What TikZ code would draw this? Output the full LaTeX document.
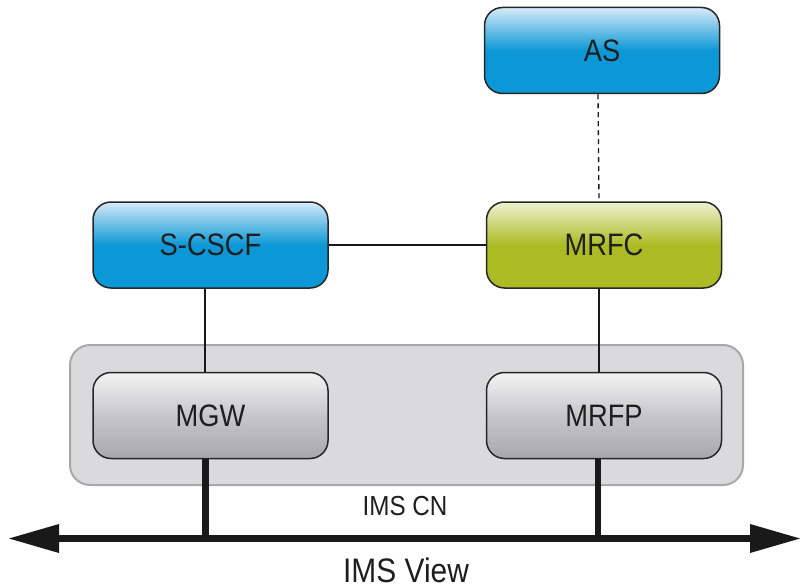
\documentclass[tikz,border=0pt]{standalone}
\usepackage{fontspec}
\setmainfont[FakeStretch=0.88]{Liberation Sans}
\usetikzlibrary{arrows.meta}
\definecolor{blueL}{RGB}{214,234,248}
\definecolor{blueC}{RGB}{12,152,214}
\definecolor{greenL}{RGB}{238,242,210}
\definecolor{greenC}{RGB}{172,187,36}
\definecolor{grayL}{RGB}{244,244,245}
\definecolor{grayC}{RGB}{168,168,171}
\definecolor{contF}{RGB}{218,218,220}
\definecolor{contD}{RGB}{168,168,170}
\definecolor{txt}{RGB}{30,30,30}
\tikzset{
  box/.style={draw=black!85, line width=1.5pt, rounded corners=18pt,
    minimum width=235pt, minimum height=86pt, inner sep=0pt,
    font=\fontsize{31}{31}\selectfont, text=txt},
  bluebox/.style={box, top color=blueL, bottom color=blueC, middle color=blueC},
  greenbox/.style={box, top color=greenL, bottom color=greenC, middle color=greenC},
  graybox/.style={box, top color=grayL, bottom color=grayC, middle color=grayC!60!grayL},
  thin link/.style={line width=1.3pt, black!90},
  thick link/.style={line width=6.5pt, black!90},
  bigtip/.tip={Stealth[length=50pt,width=29pt,inset=0pt,line width=0pt]},
}
\begin{document}
\begin{tikzpicture}[x=1pt,y=-1pt]
\useasboundingbox (0,0) rectangle (802,588);
\node[draw=contD, fill=contF, line width=2pt, rounded corners=20pt,
  minimum width=673pt, minimum height=140pt] (cn) at (406.5,415) {};
\node[bluebox] (as) at (602,50.5) {AS};
\node[bluebox] (scscf) at (210.5,245) {S-CSCF};
\node[greenbox] (mrfc) at (604,245) {MRFC};
\node[graybox] (mgw) at (210.5,415.5) {MGW};
\node[graybox] (mrfp) at (604,415.5) {MRFP};
\coordinate (L) at (9,538.5);
\coordinate (R) at (800,538.5);
\draw[thin link] (scscf.east) -- (mrfc.west);
\draw[thin link] ([xshift=-5.5pt]scscf.south) -- ([xshift=-5.5pt]mgw.north);
\draw[thin link] ([xshift=-5pt]mrfc.south) -- ([xshift=-5pt]mrfp.north);
\draw[thin link, dash pattern=on 5pt off 4pt] ([xshift=-4pt]as.south) -- ([xshift=-5pt]mrfc.north);
\draw[thick link] ([xshift=-5pt]mgw.south) -- ([xshift=-5pt]mgw.south |- L);
\draw[thick link] ([xshift=-6pt]mrfp.south) -- ([xshift=-6pt]mrfp.south |- L);
\draw[line width=7pt, black!90, bigtip-bigtip] (L) -- (R);
\node[text=txt, font=\fontsize{27.5}{27.5}\selectfont] (cnlabel) at (405,506) {IMS CN};
\node[text=txt, font=\fontsize{34}{34}\selectfont] (view) at (406,570) {IMS View};
\end{tikzpicture}
\end{document}
